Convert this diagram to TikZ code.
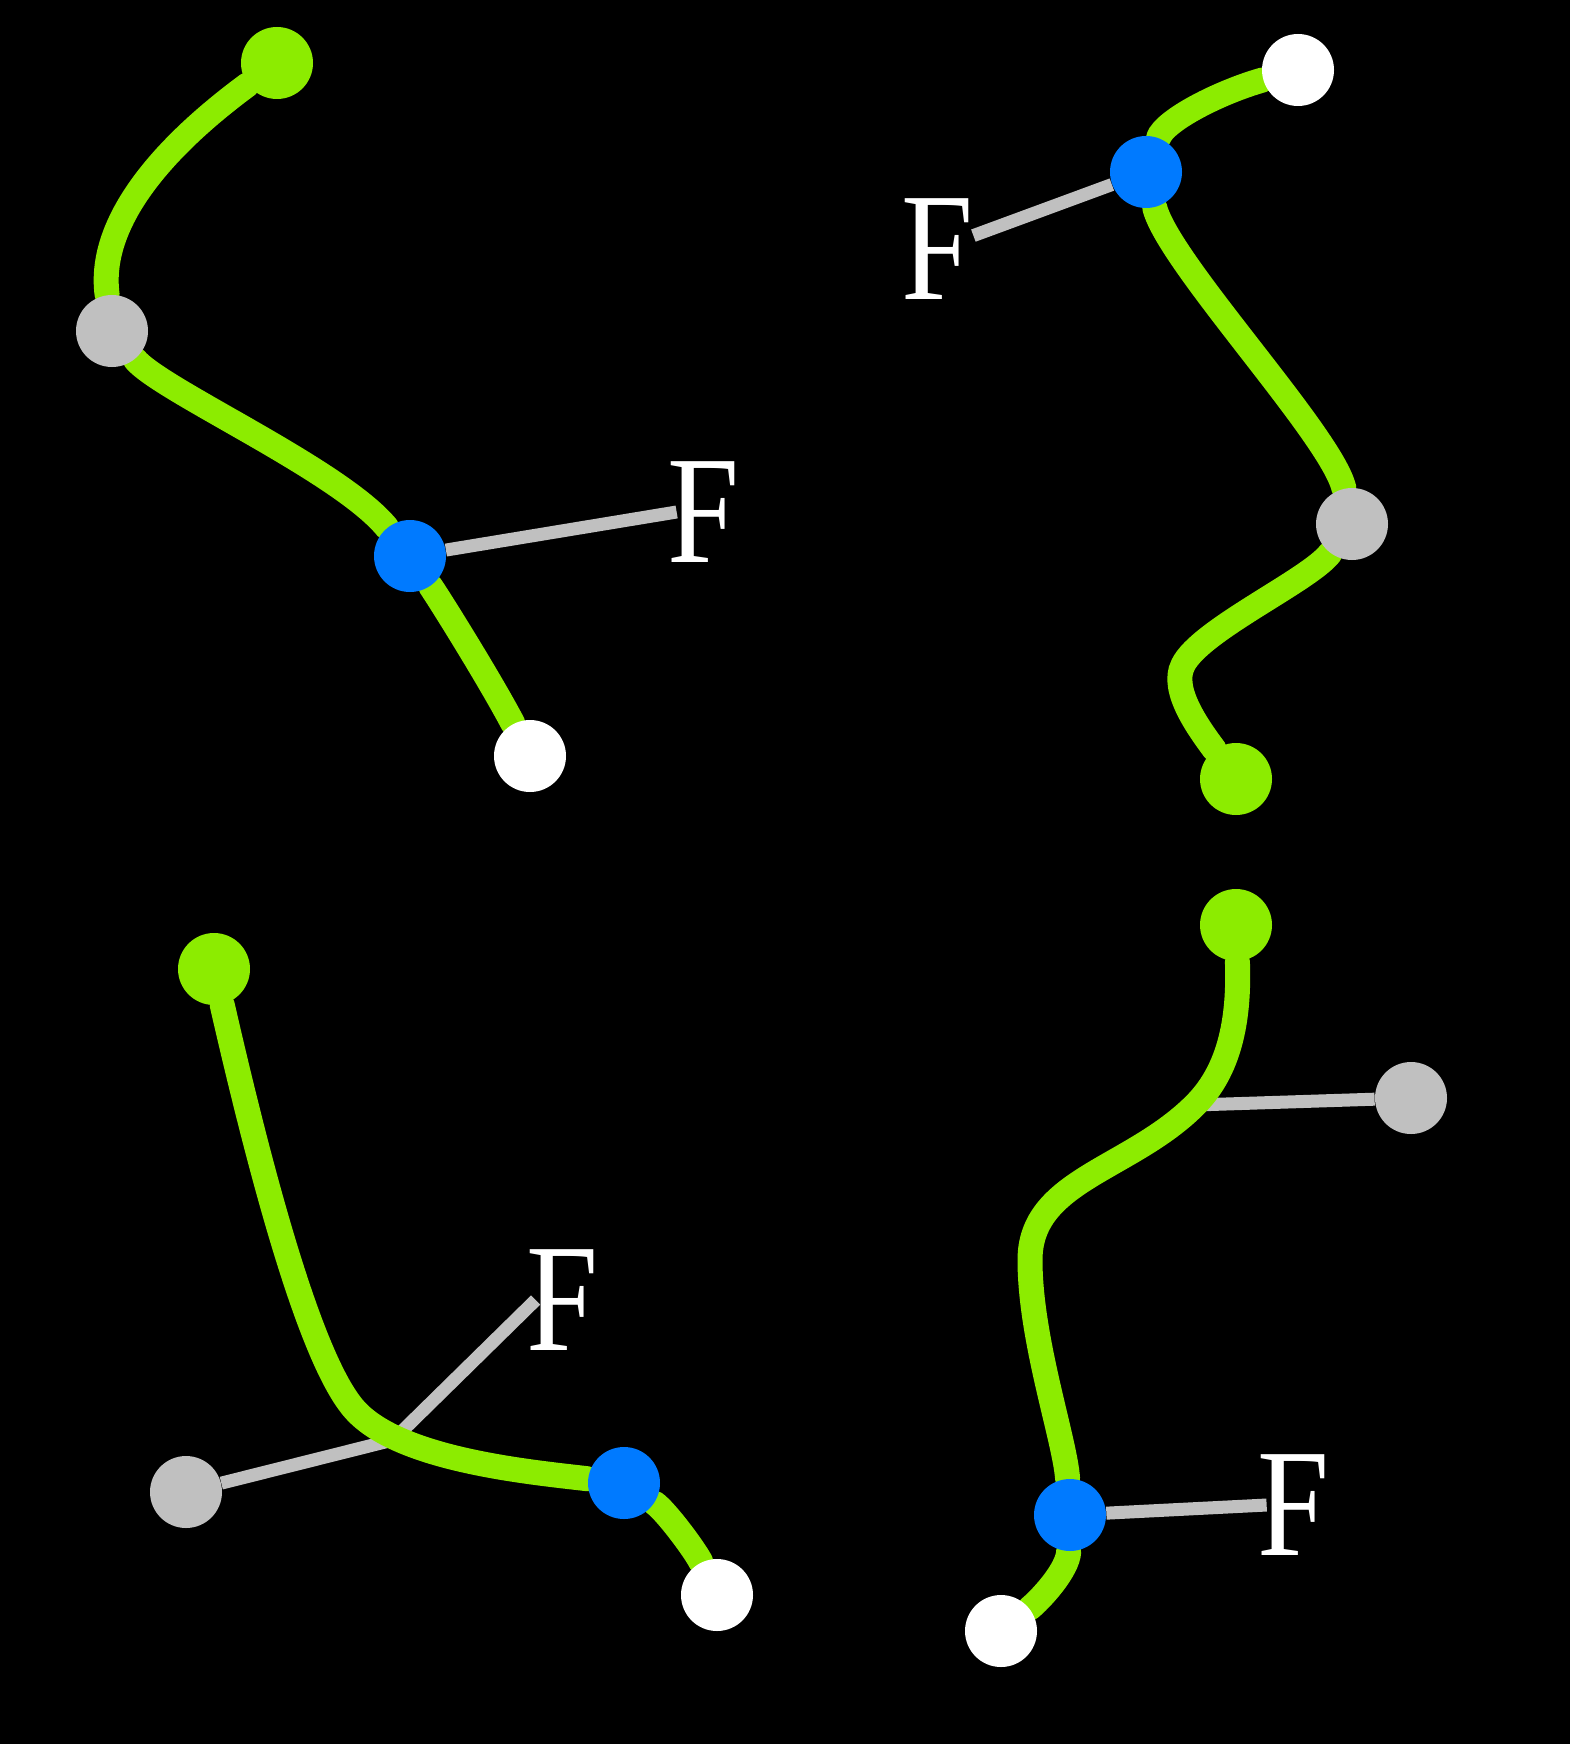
\documentclass[tikz,border=0pt]{standalone}
\usepackage{fontspec}
\setmainfont{Liberation Serif}
\definecolor{limb}{HTML}{8CEC00}
\definecolor{effector}{HTML}{007AFF}
\definecolor{pivot}{HTML}{C0C0C0}
\pgfdeclarelayer{back}
\pgfdeclarelayer{links}
\pgfsetlayers{back,links,main}

\begin{document}
\begin{tikzpicture}[%
    x=0.5pt, y=-0.5pt,
    joint/.style={circle, minimum size=36pt, inner sep=0pt},
    root/.style={joint, fill=limb},
    mid/.style={joint, fill=pivot},
    grab/.style={joint, fill=effector},
    tip/.style={joint, fill=white},
    force/.style={text=white, inner sep=0pt, font=\fontsize{77}{77}\selectfont},
    bone/.style={draw=limb, line width=12.5pt, line cap=round},
    pull/.style={draw=pivot, line width=6.5pt}
  ]
    \useasboundingbox (0,0) rectangle (1570,1744);
    \begin{pgfonlayer}{back}
      \fill[black] (0,0) rectangle (1570,1744);
    \end{pgfonlayer}

    % top left
    \node[root] (g1) at (277,63)  {};
    \node[mid]  (s1) at (112,331) {};
    \node[grab] (b1) at (410,556) {};
    \node[tip]  (w1) at (530,756) {};
    \node[force] (f1) at (703,512) {\scalebox{0.84}[1]{F}};

    % top right
    \node[tip]  (w2) at (1298,70)  {};
    \node[grab] (b2) at (1146,172) {};
    \node[mid]  (s2) at (1352,524) {};
    \node[root] (g2) at (1236,779) {};
    \node[force] (f2) at (937,249) {\scalebox{0.84}[1]{F}};
    \coordinate (k2) at (1183,665);

    % bottom left
    \node[root] (g3) at (214,969)  {};
    \node[mid]  (s3) at (186,1492) {};
    \node[grab] (b3) at (624,1483) {};
    \node[tip]  (w3) at (717,1595) {};
    \node[force] (f3) at (562,1300) {\scalebox{0.84}[1]{F}};
    \coordinate (k3) at (355,1410);
    \coordinate (j3) at (393,1440);

    % bottom right
    \node[root] (g4) at (1236,925)  {};
    \node[mid]  (s4) at (1411,1098) {};
    \node[grab] (b4) at (1070,1515) {};
    \node[tip]  (w4) at (1001,1631) {};
    \node[force] (f4) at (1293,1505) {\scalebox{0.84}[1]{F}};
    \coordinate (k4) at (1195,1105);
    \coordinate (k5) at (1030,1260);

    \begin{pgfonlayer}{links}
      \path[pull] (b1) edge ([xshift=5pt]f1.west)
                  (b2) edge (f2)
                  (b4) edge ([xshift=5pt]f4.west)
                  (s4) edge (k4);
      \draw[pull] (s3) -- (j3) -- ([xshift=5pt]f3.west);

      \draw[bone] (g1) .. controls (200,120) and (95,205) .. (s1);
      \draw[bone] (s1) .. controls (160,390) and (340,470) .. (b1);
      \draw[bone] (b1) .. controls (440,600) and (490,680) .. (w1);

      \draw[bone] (w2) .. controls (1220,92) and (1165,120) .. (b2);
      \draw[bone] (b2) .. controls (1168,262) and (1332,436) .. (s2);
      \draw[bone] (s2) .. controls (1310,580) and (1200,630) .. (k2)
                       .. controls (1170,690) and (1200,730) .. (g2);

      \draw[bone] (g3) .. controls (260,1170) and (310,1360) .. (k3)
                       .. controls (400,1460) and (530,1472) .. (b3);
      \draw[bone] (b3) .. controls (665,1510) and (695,1550) .. (w3);

      \draw[bone] (g4) .. controls (1240,1030) and (1225,1075) .. (k4)
                       .. controls (1130,1170) and (1030,1180) .. (k5)
                       .. controls (1030,1340) and (1065,1440) .. (b4);
      \draw[bone] (b4) .. controls (1068,1570) and (1040,1600) .. (w4);
    \end{pgfonlayer}
\end{tikzpicture}
\end{document}
